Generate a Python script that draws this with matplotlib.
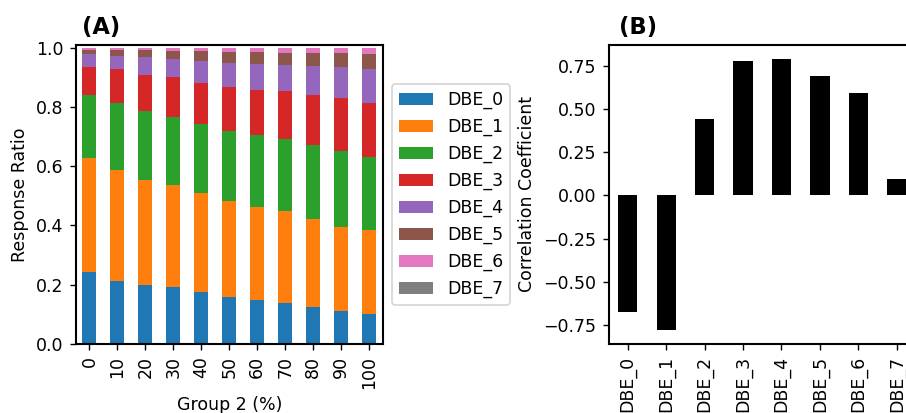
import matplotlib
matplotlib.use("Agg")
import matplotlib.pyplot as plt
import numpy as np

# ---- data ----
groups = ["0", "10", "20", "30", "40", "50", "60", "70", "80", "90", "100"]
dbe_names = ["DBE_0", "DBE_1", "DBE_2", "DBE_3", "DBE_4", "DBE_5", "DBE_6", "DBE_7"]

dbe0 = [0.244, 0.213, 0.200, 0.191, 0.176, 0.160, 0.149, 0.139, 0.126, 0.112, 0.102]
dbe1 = [0.385, 0.375, 0.354, 0.344, 0.332, 0.321, 0.314, 0.308, 0.294, 0.284, 0.283]
dbe2 = [0.212, 0.226, 0.231, 0.232, 0.235, 0.238, 0.243, 0.245, 0.250, 0.254, 0.247]
dbe3 = [0.094, 0.112, 0.123, 0.132, 0.139, 0.149, 0.152, 0.160, 0.171, 0.181, 0.182]
dbe4 = [0.043, 0.047, 0.059, 0.063, 0.074, 0.081, 0.087, 0.090, 0.098, 0.104, 0.112]
dbe5 = [0.015, 0.020, 0.026, 0.027, 0.031, 0.037, 0.039, 0.040, 0.041, 0.045, 0.053]
dbe6 = [0.005, 0.005, 0.005, 0.009, 0.011, 0.012, 0.014, 0.016, 0.018, 0.018, 0.019]
dbe7 = [0.002, 0.002, 0.002, 0.002, 0.002, 0.002, 0.002, 0.002, 0.002, 0.002, 0.002]

correlation = [-0.671, -0.780, 0.440, 0.778, 0.790, 0.692, 0.589, 0.096]

series = [dbe0, dbe1, dbe2, dbe3, dbe4, dbe5, dbe6, dbe7]

# ---- figure ----
DPI = 125
fig = plt.figure(figsize=(906 / DPI, 413 / DPI), dpi=DPI)
plt.rcParams["axes.linewidth"] = 1.2

W, H = 906.0, 413.0
axA = fig.add_axes([75.5 / W, 1 - 344 / H, 307.5 / W, 299 / H])
axB = fig.add_axes([608.5 / W, 1 - 344 / H, 307.5 / W, 299 / H])

colors = plt.rcParams["axes.prop_cycle"].by_key()["color"]
x = np.arange(len(groups))
bottom = np.zeros(len(groups))
for name, vals, c in zip(dbe_names, series, colors):
    v = np.array(vals)
    axA.bar(x, v, width=0.5, bottom=bottom, color=c, label=name)
    bottom = bottom + v

axA.set_xlim(-0.5, len(groups) - 0.5)
axA.set_ylim(0, 1.0085)
axA.set_xticks(x)
axA.set_xticklabels(groups, rotation=90)
axA.set_xlabel("Group 2 (%)")
axA.set_ylabel("Response Ratio")
axA.legend(loc="center left", bbox_to_anchor=(1, 0.5))
axA.text(0.021, 1.038, "(A)", transform=axA.transAxes, fontsize=13,
         fontweight="bold", ha="left", va="baseline")

xb = np.arange(len(dbe_names))
axB.bar(xb, correlation, width=0.5, color="black")
axB.set_xlim(-0.5, len(dbe_names) - 0.5)
axB.set_xticks(xb)
axB.set_xticklabels(dbe_names, rotation=90)
axB.set_ylabel("Correlation Coefficient")
axB.set_yticks([-0.75, -0.5, -0.25, 0.0, 0.25, 0.5, 0.75])
axB.text(0.035, 1.038, "(B)", transform=axB.transAxes, fontsize=13,
         fontweight="bold", ha="left", va="baseline")

fig.savefig("out.png", dpi=DPI)
